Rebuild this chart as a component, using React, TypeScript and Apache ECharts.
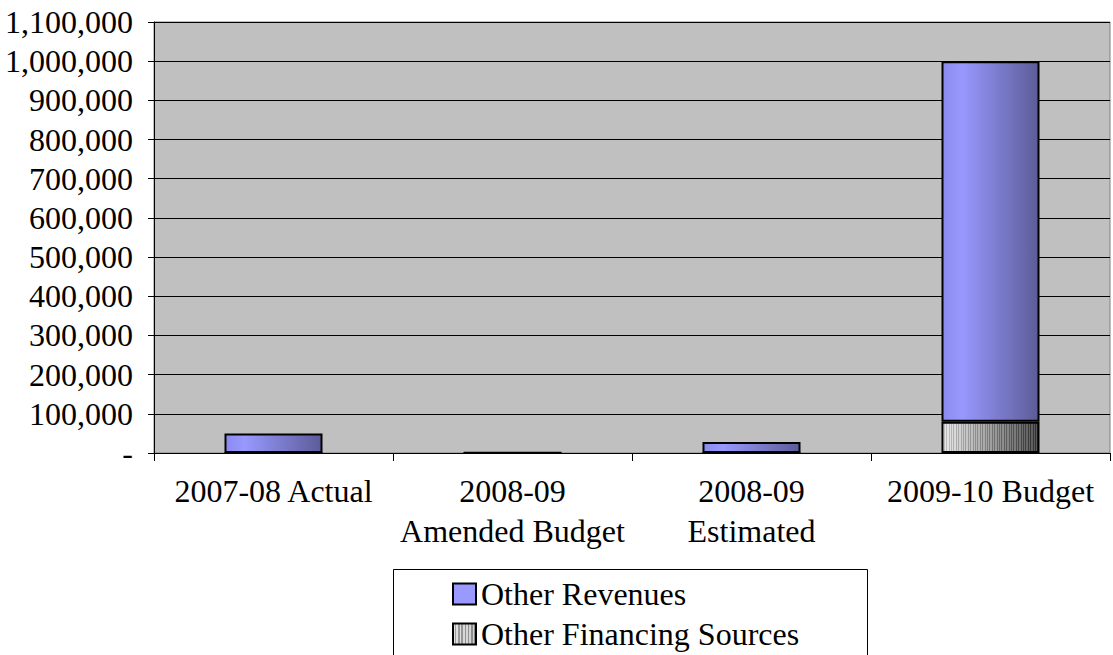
import React, { useEffect, useRef } from "react";
import * as echarts from "echarts";

const categories = ["2007-08 Actual", "2008-09\nAmended Budget", "2008-09\nEstimated", "2009-10 Budget"];
const otherFinancingSources = [0, 0, 0, 80000];
const otherRevenues = [50000, 1500, 28000, 920000];
const yTicks = { min: 0, max: 1100000, interval: 100000 };

const FONT = "'Liberation Serif', 'Times New Roman', serif";

function stripeStops(n: number, from: number, span: number, dark: number) {
  const stops: { offset: number; color: string }[] = [];
  for (let i = 0; i < n; i++) {
    const t = i / n;
    const base = Math.round(from - t * span);
    const c2 = Math.max(0, base - dark);
    const h1 = `rgb(${base},${base},${base})`;
    const h2 = `rgb(${c2},${c2},${c2})`;
    stops.push({ offset: t, color: h1 });
    stops.push({ offset: t + 0.5 / n, color: h1 });
    stops.push({ offset: t + 0.5 / n + 0.0001, color: h2 });
    stops.push({ offset: Math.min(1, (i + 1) / n - 0.0001), color: h2 });
  }
  return stops;
}

export default function App() {
  const ref = useRef<HTMLDivElement>(null);
  useEffect(() => {
    if (!ref.current) return;
    const chart = echarts.init(ref.current, null, { renderer: "svg" });
    const revGrad = new echarts.graphic.LinearGradient(0, 0, 1, 0, [
      { offset: 0, color: "#8a8aee" },
      { offset: 0.2, color: "#9898ff" },
      { offset: 1, color: "#5c5c98" },
    ]);
    const finGrad = new echarts.graphic.LinearGradient(0, 0, 1, 0, stripeStops(40, 235, 150, 45));
    const finLegendGrad = new echarts.graphic.LinearGradient(0, 0, 1, 0, stripeStops(7, 225, 20, 70));
    const legendText = { color: "#000", fontSize: 32, fontFamily: FONT };
    chart.setOption({
      animation: false,
      backgroundColor: "#ffffff",
      textStyle: { fontFamily: FONT },
      grid: { left: 154, right: 3, top: 22, bottom: 202, show: true, backgroundColor: "#c0c0c0", borderColor: "#808080", borderWidth: 1 },
      xAxis: {
        type: "category",
        data: categories,
        axisLine: { show: true, lineStyle: { color: "#000", width: 1 } },
        axisTick: { show: true, length: 8, lineStyle: { color: "#000" }, alignWithLabel: false },
        axisLabel: { color: "#000", fontSize: 32, fontFamily: FONT, lineHeight: 40, margin: 18, interval: 0 },
        splitLine: { show: false },
      },
      yAxis: {
        type: "value",
        min: yTicks.min,
        max: yTicks.max,
        interval: yTicks.interval,
        axisLine: { show: true, lineStyle: { color: "#000", width: 1 } },
        axisTick: { show: true, length: 6, lineStyle: { color: "#000" } },
        axisLabel: {
          color: "#000",
          fontSize: 32,
          fontFamily: FONT,
          margin: 21,
          formatter: (v: number) => (v === 0 ? "-" : v.toLocaleString("en-US")),
        },
        splitLine: { show: true, lineStyle: { color: "#000", width: 1 } },
      },
      legend: [
        {
          left: 447,
          top: 573,
          itemWidth: 23,
          itemHeight: 21,
          data: [{ name: "Other Revenues", itemStyle: { color: "#9999ff", borderColor: "#000", borderWidth: 2 } }],
          textStyle: legendText,
          icon: "rect",
        },
        {
          left: 447,
          top: 613,
          itemWidth: 23,
          itemHeight: 21,
          data: [{ name: "Other Financing Sources", itemStyle: { color: finLegendGrad, borderColor: "#000", borderWidth: 2 } }],
          textStyle: legendText,
          icon: "rect",
        },
      ],
      graphic: [
        { type: "rect", z: -1, left: 393, top: 569, shape: { width: 474, height: 100 }, style: { fill: "#fff", stroke: "#000", lineWidth: 1 } },
      ],
      series: [
        {
          name: "Other Financing Sources",
          type: "bar",
          stack: "total",
          barWidth: 98,
          data: otherFinancingSources,
          itemStyle: { color: finGrad, borderColor: "#000", borderWidth: 2 },
        },
        {
          name: "Other Revenues",
          type: "bar",
          stack: "total",
          barWidth: 98,
          data: otherRevenues,
          itemStyle: { color: revGrad, borderColor: "#000", borderWidth: 2 },
        },
      ],
    });
    return () => chart.dispose();
  }, []);
  return <div ref={ref} style={{ position: "fixed", left: 0, top: 0, width: 1113, height: 655 }} />;
}
